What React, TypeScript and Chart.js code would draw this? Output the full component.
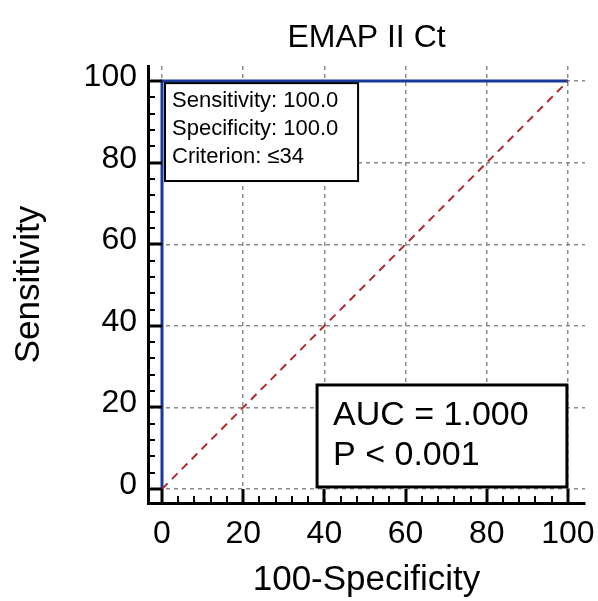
import { useEffect, useRef } from 'react';
import { Chart, registerables } from 'chart.js';

Chart.register(...registerables);

const FONT = "Arial, 'Liberation Sans', sans-serif";

const titleText = 'EMAP II Ct';
const xTitle = '100-Specificity';
const yTitle = 'Sensitivity';
const majorTicks = [0, 20, 40, 60, 80, 100];
const minorTicks = [0, 4, 8, 12, 16, 20, 24, 28, 32, 36, 40, 44, 48, 52, 56, 60, 64, 68, 72, 76, 80, 84, 88, 92, 96, 100];
const rocX = [0, 0, 100];
const rocY = [0, 100, 100];
const refX = [0, 100];
const refY = [0, 100];
const criterionLines = ['Sensitivity: 100.0', 'Specificity: 100.0', 'Criterion: \u226434'];
const aucLines = ['AUC = 1.000', 'P < 0.001'];

const decor = {
  id: 'decor',
  afterDatasetsDraw(chart: any) {
    const { ctx } = chart;
    const x = chart.scales.x;
    const y = chart.scales.y;
    // criterion box
    {
      const l = x.getPixelForValue(0.74);
      const r = x.getPixelForValue(48.3);
      const t = y.getPixelForValue(99.5);
      const b = y.getPixelForValue(75.5);
      ctx.save();
      ctx.fillStyle = '#fff';
      ctx.fillRect(l, t, r - l, b - t);
      ctx.strokeStyle = '#000';
      ctx.lineWidth = 2;
      ctx.strokeRect(l, t, r - l, b - t);
      ctx.fillStyle = '#000';
      ctx.font = `22px ${FONT}`;
      ctx.textBaseline = 'alphabetic';
      ctx.textAlign = 'left';
      criterionLines.forEach((s, i) => ctx.fillText(s, l + 7, t + 24 + i * 28));
      ctx.restore();
    }
    // AUC box
    {
      const l = x.getPixelForValue(38.2);
      const r = x.getPixelForValue(99.75);
      const t = y.getPixelForValue(25.5);
      const b = y.getPixelForValue(0.5);
      ctx.save();
      ctx.fillStyle = '#fff';
      ctx.fillRect(l, t, r - l, b - t);
      ctx.strokeStyle = '#000';
      ctx.lineWidth = 3;
      ctx.strokeRect(l, t, r - l, b - t);
      ctx.fillStyle = '#000';
      ctx.font = `34px ${FONT}`;
      ctx.textBaseline = 'alphabetic';
      ctx.textAlign = 'left';
      aucLines.forEach((s, i) => ctx.fillText(s, l + 16, t + 40 + i * 40));
      ctx.restore();
    }
  },
  afterDraw(chart: any) {
    const { ctx, chartArea } = chart;
    const x = chart.scales.x;
    const y = chart.scales.y;
    ctx.save();
    ctx.strokeStyle = '#000';
    minorTicks.forEach((v) => {
      const major = majorTicks.includes(v);
      ctx.lineWidth = major ? 3 : 2;
      const px = Math.round(x.getPixelForValue(v));
      ctx.beginPath();
      ctx.moveTo(px, chartArea.bottom);
      ctx.lineTo(px, chartArea.bottom - (major ? 14 : 7));
      ctx.stroke();
      const py = Math.round(y.getPixelForValue(v));
      ctx.beginPath();
      ctx.moveTo(chartArea.left, py);
      ctx.lineTo(chartArea.left + (major ? 14 : 7), py);
      ctx.stroke();
    });
    ctx.restore();
  },
};

export default function App() {
  const ref = useRef<HTMLCanvasElement>(null);
  useEffect(() => {
    if (!ref.current) return;
    const chart = new Chart(ref.current, {
      type: 'scatter',
      data: {
        datasets: [
          {
            data: refX.map((v, i) => ({ x: v, y: refY[i] })),
            xAxisID: 'x',
            yAxisID: 'y',
            showLine: true,
            borderColor: '#b3282d',
            borderWidth: 2,
            borderDash: [8, 6],
            pointRadius: 0,
            fill: false,
          },
          {
            data: rocX.map((v, i) => ({ x: v, y: rocY[i] })),
            xAxisID: 'x',
            yAxisID: 'y',
            showLine: true,
            borderColor: '#16399b',
            borderWidth: 3,
            pointRadius: 0,
            fill: false,
          },
        ],
      },
      options: {
        responsive: false,
        animation: false,
        devicePixelRatio: 1,
        layout: { padding: { left: 0, right: 13, top: 0, bottom: 0 } },
        plugins: { legend: { display: false }, tooltip: { enabled: false }, title: { display: false } },
        scales: {
          x: {
            type: 'linear',
            position: 'bottom',
            min: -3.45,
            max: 104.2,
            afterBuildTicks: (s: any) => { s.ticks = majorTicks.map((v) => ({ value: v })); },
            ticks: { color: '#000', font: { size: 32, family: FONT }, padding: 12, maxRotation: 0, autoSkip: false },
            grid: { color: '#8c8c8c', lineWidth: 1.5, drawTicks: false },
            border: { display: true, color: '#000', width: 3, dash: [4, 4] },
            title: { display: true, text: xTitle, color: '#000', font: { size: 35, family: FONT }, padding: { top: 0, bottom: 0 } },
            afterFit: (s: any) => { s.height = 98; s.paddingLeft = 0; s.paddingRight = 0; },
          },
          y: {
            type: 'linear',
            position: 'left',
            min: -3.43,
            max: 103.7,
            afterBuildTicks: (s: any) => { s.ticks = majorTicks.map((v) => ({ value: v })); },
            ticks: { color: '#000', font: { size: 32, family: FONT }, padding: 11, autoSkip: false, labelOffset: -4 },
            grid: { color: '#8c8c8c', lineWidth: 1.5, drawTicks: false },
            border: { display: true, color: '#000', width: 3, dash: [4, 4] },
            title: { display: true, text: yTitle, color: '#000', font: { size: 35, family: FONT }, padding: { top: 8, bottom: 0 } },
            afterFit: (s: any) => { s.width = 148; s.paddingTop = 0; s.paddingBottom = 0; },
          },
          xTop: {
            type: 'linear',
            position: 'top',
            grid: { display: false },
            border: { display: false },
            ticks: { display: false },
            title: { display: true, text: titleText, color: '#000', font: { size: 32, family: FONT }, padding: { top: 19, bottom: 0 } },
            afterFit: (s: any) => { s.height = 66; s.paddingLeft = 0; s.paddingRight = 0; },
          },
        },
      },
      plugins: [decor],
    } as any);
    return () => chart.destroy();
  }, []);
  return (
    <div style={{ position: 'fixed', left: 0, top: 0, width: 598, height: 601, background: '#fff' }}>
      <canvas ref={ref} width={598} height={601} style={{ display: 'block' }} />
    </div>
  );
}
